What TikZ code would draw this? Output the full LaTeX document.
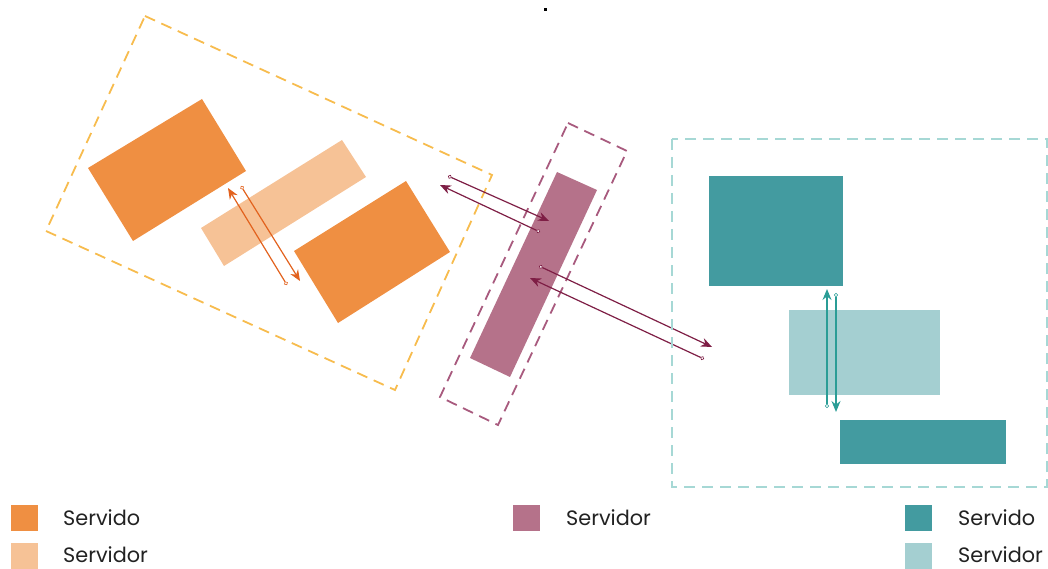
\documentclass[tikz,border=0pt]{standalone}
\usepackage{fontspec}
\setmainfont{Poppins}
\usetikzlibrary{arrows.meta}
\definecolor{orD}{HTML}{EF8F42}
\definecolor{orL}{HTML}{F6C296}
\definecolor{orDash}{HTML}{F7BC4E}
\definecolor{orArr}{HTML}{E2621E}
\definecolor{puD}{HTML}{B5728A}
\definecolor{puDash}{HTML}{A85A7E}
\definecolor{puArr}{HTML}{7E1E45}
\definecolor{teD}{HTML}{439BA0}
\definecolor{teL}{HTML}{A4CFD1}
\definecolor{teDash}{HTML}{A6D8D5}
\definecolor{teArr}{HTML}{2A9D96}
\definecolor{txt}{HTML}{222222}
\tikzset{
  grpbox/.style={line width=1.8pt, dash pattern=on 11pt off 7pt},
  flowarr/.style={line width=1.2pt, {Circle[open,length=4pt,width=4pt,fill=white,line width=0.6pt]}-{Stealth[length=11pt,width=9pt]}},
  legsq/.style={minimum width=27pt, minimum height=26pt, inner sep=0pt, anchor=north west},
  legtxt/.style={anchor=base west, inner sep=0pt, font=\fontsize{20.8}{24}\selectfont, text=txt}
}
\begin{document}
\begin{tikzpicture}[x=1pt,y=-1pt]
\useasboundingbox (0,0) rectangle (1048,569);
% stray dot
\fill[black] (543.5,8.5) rectangle (547,11) coordinate (dot);
% ---------- orange group ----------
\draw[grpbox, orDash] (145,16) -- (492,175) -- (395,390) -- (46,231) -- cycle;
\fill[orD] (88,168) -- (202,99) -- (246,171) -- (133,241) -- cycle;
\fill[orL] (201,228) -- (342,140) -- (366,177) -- (224,266) -- cycle;
\fill[orD] (294,251) -- (406,181) -- (450,252) -- (338,323) -- cycle;
\coordinate (oa1) at (287,285);
\coordinate (oa2) at (228,188);
\coordinate (ob1) at (241,186);
\coordinate (ob2) at (300,281);
\draw[flowarr, orArr] (oa1) -- (oa2);
\draw[flowarr, orArr] (ob1) -- (ob2);
% ---------- purple group ----------
\draw[grpbox, puDash] (568,123) -- (627,151) -- (498,425) -- (440,397) -- cycle;
\fill[puD] (557,172) -- (597,190) -- (510,377) -- (470,358) -- cycle;
\coordinate (pa1) at (448,176);
\coordinate (pa2) at (549,221);
\coordinate (pb1) at (540,232);
\coordinate (pb2) at (440,185);
\coordinate (pc1) at (539,266);
\coordinate (pc2) at (712,347);
\coordinate (pd1) at (704,359);
\coordinate (pd2) at (530,278);
\draw[flowarr, puArr] (pa1) -- (pa2);
\draw[flowarr, puArr] (pb1) -- (pb2);
\draw[flowarr, puArr] (pc1) -- (pc2);
\draw[flowarr, puArr] (pd1) -- (pd2);
% ---------- teal group ----------
\draw[grpbox, teDash] (672,139) rectangle (1047,487);
\fill[teD] (709,176) rectangle (843,286);
\fill[teL] (789,310) rectangle (940,395);
\fill[teD] (840,420) rectangle (1006,464);
\coordinate (ta1) at (827,408);
\coordinate (ta2) at (827,289);
\coordinate (tb1) at (836,293);
\coordinate (tb2) at (836,412);
\draw[flowarr, teArr] (ta1) -- (ta2);
\draw[flowarr, teArr] (tb1) -- (tb2);
% ---------- legend ----------
\node[legsq, fill=orD] (l1) at (11,505) {};
\node[legtxt] (t1) at (63,525) {Servido};
\node[legsq, fill=orL] (l2) at (11,543) {};
\node[legtxt] (t2) at (63,562) {Servidor};
\node[legsq, fill=puD] (l3) at (513,505) {};
\node[legtxt] (t3) at (566,525) {Servidor};
\node[legsq, fill=teD] (l4) at (905,505) {};
\node[legtxt] (t4) at (958,525) {Servido};
\node[legsq, fill=teL] (l5) at (905,543) {};
\node[legtxt] (t5) at (958,562) {Servidor};
\end{tikzpicture}
\end{document}
